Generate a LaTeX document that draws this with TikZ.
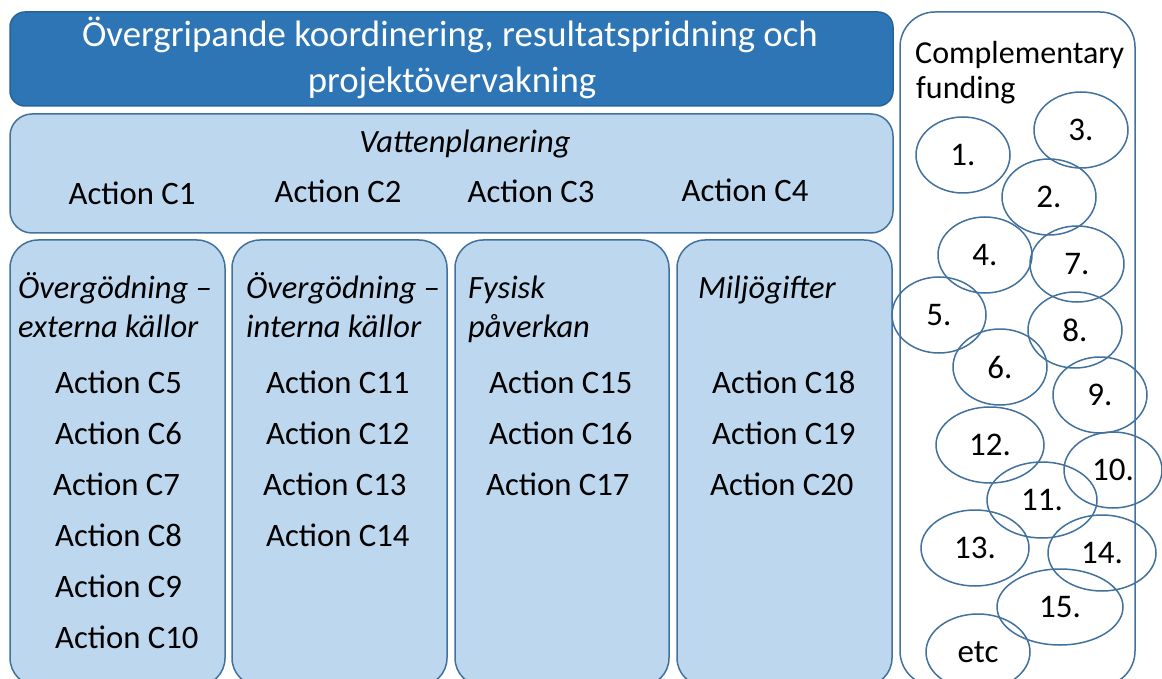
\documentclass[tikz,border=0pt]{standalone}
\usepackage{fontspec}
\setmainfont{Carlito}
\usepackage{tikz}
\usetikzlibrary{shapes.geometric}
\definecolor{hdrblue}{HTML}{2E75B6}
\definecolor{lightblue}{HTML}{BDD7EE}
\definecolor{edgeblue}{HTML}{41719C}
\tikzset{
	%	box/.style={rectangle,draw,rounded corners},
	hdrbox/.style={rectangle,rounded corners=15pt,fill=hdrblue,draw=hdrblue!85!black,line width=1.5pt,inner sep=0pt},
	areabox/.style={rectangle,rounded corners=28pt,fill=lightblue,draw=edgeblue,line width=1.5pt,inner sep=0pt},
	fundbox/.style={rectangle,rounded corners=35pt,fill=white,draw=edgeblue,line width=1.5pt,inner sep=0pt},
	fund/.style={ellipse,draw=edgeblue,line width=1.5pt,minimum width=94pt,minimum height=76pt,inner sep=0pt,font=\fontsize{33}{38}\selectfont},
	act/.style={anchor=base west,inner sep=0pt,font=\fontsize{32.7}{38}\selectfont},
	hdg/.style={anchor=base west,inner sep=0pt,font=\fontsize{32.5}{38}\selectfont\itshape}
}

\begin{document}
\begin{tikzpicture}[x=1pt,y=-1pt]
	\useasboundingbox (0,0) rectangle (1162,679);
	
	% boxes
	\node[hdrbox,minimum width=883pt,minimum height=94pt] (hdr) at (451.5,59) {};
	\node[areabox,rounded corners=22pt,minimum width=883pt,minimum height=119pt] (vatten) at (451.5,173.5) {};
	\node[areabox,minimum width=215pt,minimum height=446pt] (col1) at (117.5,463) {};
	\node[areabox,minimum width=215pt,minimum height=446pt] (col2) at (339.5,463) {};
	\node[areabox,minimum width=214pt,minimum height=446pt] (col3) at (562,463) {};
	\node[areabox,minimum width=215pt,minimum height=446pt] (col4) at (784.5,463) {};
	\node[fundbox,minimum width=235pt,minimum height=674pt] (funding) at (1017.5,349) {};
	
	% header
	\node[anchor=base,inner sep=0pt,text=white,font=\fontsize{36.8}{46}\selectfont] (hdr1) at (450,47) {Övergripande koordinering, resultatspridning och};
	\node[anchor=base,inner sep=0pt,text=white,font=\fontsize{36.8}{46}\selectfont] (hdr2) at (452,93) {projektövervakning};
	
	% Vattenplanering
	\node[hdg,anchor=base] (vplan) at (465,153) {Vattenplanering};
	\node[act,anchor=base] (c1) at (132,205) {Action C1};
	\node[act,anchor=base] (c2) at (338,203) {Action C2};
	\node[act,anchor=base] (c3) at (531,203) {Action C3};
	\node[act,anchor=base] (c4) at (745,202) {Action C4};
	
	% columns
	\node[hdg] (h1a) at (18,298) {Övergödning –};
	\node[hdg] (h1b) at (18,337) {externa källor};
	\node[act] (c5) at (55,393) {Action C5};
	\node[act] (c6) at (55,444) {Action C6};
	\node[act] (c7) at (53,495) {Action C7};
	\node[act] (c8) at (55,546) {Action C8};
	\node[act] (c9) at (55,597) {Action C9};
	\node[act] (c10) at (55,648) {Action C10};
	
	\node[hdg] (h2a) at (246,298) {Övergödning –};
	\node[hdg] (h2b) at (246,337) {interna källor};
	\node[act] (c11) at (266,393) {Action C11};
	\node[act] (c12) at (266,444) {Action C12};
	\node[act] (c13) at (263,495) {Action C13};
	\node[act] (c14) at (266,546) {Action C14};
	
	\node[hdg] (h3a) at (468,298) {Fysisk};
	\node[hdg] (h3b) at (468,337) {påverkan};
	\node[act] (c15) at (489,393) {Action C15};
	\node[act] (c16) at (489,444) {Action C16};
	\node[act] (c17) at (486,495) {Action C17};
	
	\node[hdg] (h4a) at (698,298) {Miljögifter};
	\node[act] (c18) at (712,393) {Action C18};
	\node[act] (c19) at (712,444) {Action C19};
	\node[act] (c20) at (710,495) {Action C20};
	
	% complementary funding
	\node[act,font=\fontsize{32}{38}\selectfont] (cf1) at (915,64) {Complementary};
	\node[act,font=\fontsize{32}{38}\selectfont] (cf2) at (916,99) {funding};
	\node[fund] (f1) at (963,155) {1.};
	\node[fund] (f3) at (1081,130) {3.};
	\node[fund] (f2) at (1049,197) {2.};
	\node[fund] (f4) at (985,255) {4.};
	\node[fund] (f7) at (1077,264) {7.};
	\node[fund] (f5) at (939,315) {5.};
	\node[fund] (f8) at (1075,330) {8.};
	\node[fund] (f6) at (1000,367) {6.};
	\node[fund] (f9) at (1100,395) {9.};
	\node[fund,minimum width=108pt] (f12) at (990,445) {12.};
	\node[fund,minimum width=98pt] (f10) at (1113,470) {10.};
	\node[fund,minimum width=110pt] (f11) at (1042,500) {11.};
	\node[fund,minimum width=108pt] (f13) at (975,548) {13.};
	\node[fund,minimum width=108pt] (f14) at (1102,553) {14.};
	\node[fund,minimum width=126pt] (f15) at (1060,607) {15.};
	\node[fund,minimum width=104pt] (fetc) at (978,652) {etc};
\end{tikzpicture}
\end{document}
